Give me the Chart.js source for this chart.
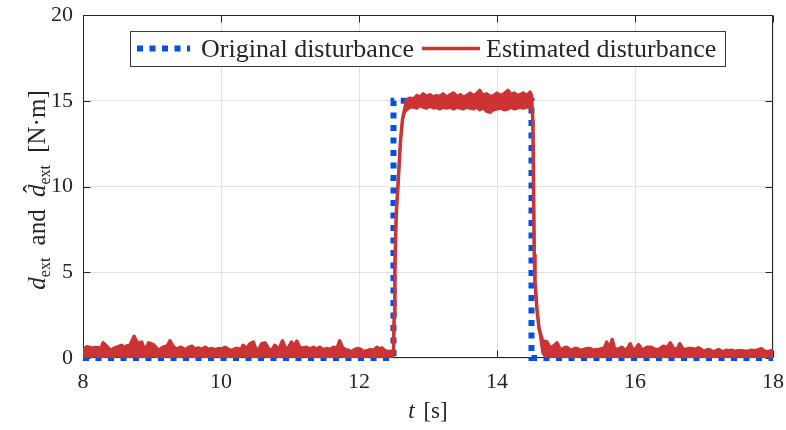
<!DOCTYPE html>
<html lang="en">
<head>
<meta charset="UTF-8">
<title>Disturbance estimation</title>
<script src="https://cdn.jsdelivr.net/npm/chart.js"></script>
<style>
  html, body { margin: 0; padding: 0; background: #fff; }
  #wrap { width: 786px; height: 430px; }
</style>
</head>
<body>
<div id="wrap"><canvas id="chart" width="786" height="430"></canvas></div>
<script>
// original step disturbance
const origTime = [8, 12.5, 12.5, 14.5, 14.5, 18];
const origValue = [0, 0, 15, 15, 0, 0];

// estimated disturbance, read as an upper / lower envelope of the noisy band
// segment A: before the step
const estTimeA = [
  8.00, 8.03, 8.05, 8.10, 8.14, 8.18, 8.22, 8.26, 8.29, 8.34,
  8.40, 8.45, 8.49, 8.56, 8.60, 8.63, 8.68, 8.71, 8.74, 8.78,
  8.82, 8.85, 8.90, 8.95, 9.02, 9.06, 9.09, 9.13, 9.16, 9.22,
  9.26, 9.30, 9.33, 9.37, 9.41, 9.45, 9.48, 9.53, 9.58, 9.62,
  9.67, 9.72, 9.77, 9.82, 9.87, 9.92, 9.96, 10.01, 10.06, 10.11,
  10.16, 10.21, 10.25, 10.29, 10.32, 10.37, 10.42, 10.47, 10.52, 10.56,
  10.59, 10.64, 10.68, 10.71, 10.75, 10.78, 10.83, 10.86, 10.89, 10.95,
  10.99, 11.02, 11.06, 11.10, 11.13, 11.17, 11.20, 11.24, 11.29, 11.34,
  11.38, 11.43, 11.48, 11.53, 11.58, 11.63, 11.68, 11.72, 11.76, 11.80,
  11.85, 11.89, 11.94, 11.99, 12.03, 12.06, 12.11, 12.16, 12.21, 12.26,
  12.30, 12.33, 12.37, 12.41, 12.45, 12.49
];
const estHighA = [
  0.40, 0.55, 0.66, 0.62, 0.56, 0.62, 0.60, 0.55, 0.88, 0.70,
  0.43, 0.58, 0.63, 0.74, 0.60, 0.70, 0.75, 1.00, 1.26, 0.93,
  0.85, 0.93, 0.43, 0.88, 0.78, 0.60, 0.43, 0.55, 0.63, 0.70,
  1.00, 0.72, 0.59, 0.50, 0.63, 0.56, 0.46, 0.62, 0.69, 0.52,
  0.59, 0.50, 0.63, 0.50, 0.55, 0.48, 0.55, 0.52, 0.63, 0.50,
  0.43, 0.55, 0.55, 0.50, 0.74, 0.55, 0.83, 0.93, 0.36, 0.60,
  0.83, 0.88, 0.60, 0.43, 0.55, 0.74, 0.55, 0.70, 1.00, 0.43,
  0.70, 0.93, 0.70, 0.98, 0.70, 0.55, 0.60, 0.63, 0.52, 0.63,
  0.50, 0.63, 0.48, 0.55, 0.50, 0.63, 0.55, 1.00, 0.62, 0.49,
  0.45, 0.36, 0.50, 0.55, 0.50, 0.36, 0.42, 0.49, 0.45, 0.63,
  0.50, 0.59, 0.45, 0.36, 0.39, 0.36
];
const estLowA = [
  0.08, 0.06, 0.10, 0.05, 0.08, 0.12, 0.06, 0.09, 0.05, 0.10,
  0.07, 0.05, 0.11, 0.08, 0.06, 0.10, 0.05, 0.09, 0.12, 0.07,
  0.10, 0.05, 0.08, 0.06, 0.11, 0.07, 0.05, 0.09, 0.06, 0.10,
  0.08, 0.05, 0.12, 0.07, 0.06, 0.10, 0.05, 0.08, 0.09, 0.06,
  0.10, 0.07, 0.05, 0.09, 0.06, 0.11, 0.08, 0.05, 0.10, 0.07,
  0.06, 0.09, 0.05, 0.08, 0.12, 0.06, 0.10, 0.07, 0.05, 0.09,
  0.08, 0.11, 0.06, 0.05, 0.09, 0.07, 0.10, 0.06, 0.12, 0.05,
  0.08, 0.10, 0.06, 0.09, 0.05, 0.07, 0.11, 0.06, 0.08, 0.05,
  0.10, 0.07, 0.06, 0.09, 0.05, 0.08, 0.06, 0.12, 0.07, 0.05,
  0.09, 0.06, 0.10, 0.05, 0.08, 0.06, 0.07, 0.10, 0.05, 0.09,
  0.06, 0.08, 0.05, 0.07, 0.06, 0.08
];

// segment B: rise, plateau, fall
const estTimeB = [
  12.50, 12.51, 12.52, 12.54, 12.57, 12.60, 12.63, 12.66, 12.69, 12.74,
  12.79, 12.84, 12.88, 12.93, 12.98, 13.03, 13.08, 13.12, 13.17, 13.22,
  13.27, 13.32, 13.37, 13.42, 13.47, 13.51, 13.56, 13.61, 13.66, 13.70,
  13.75, 13.80, 13.85, 13.90, 13.95, 14.00, 14.05, 14.10, 14.16, 14.20,
  14.25, 14.29, 14.33, 14.38, 14.43, 14.48, 14.50, 14.52, 14.54, 14.55,
  14.58, 14.61, 14.66, 14.70
];
const estHighB = [
  0.40, 2.50, 5.30, 8.40, 10.40, 12.60, 13.90, 14.50, 15.05, 15.15,
  15.10, 15.30, 15.20, 15.40, 15.25, 15.35, 15.20, 15.30, 15.25, 15.40,
  15.20, 15.35, 15.45, 15.25, 15.35, 15.20, 15.30, 15.45, 15.30, 15.40,
  15.60, 15.30, 15.40, 15.25, 15.30, 15.45, 15.30, 15.40, 15.60, 15.35,
  15.45, 15.30, 15.35, 15.45, 15.30, 15.50, 15.30, 13.80, 6.00, 4.50,
  2.80, 1.70, 1.00, 0.96
];
const estLowB = [
  0.10, 2.50, 5.30, 8.40, 10.40, 12.60, 13.90, 14.30, 14.45, 14.60,
  14.60, 14.55, 14.70, 14.60, 14.55, 14.65, 14.55, 14.60, 14.50, 14.60,
  14.55, 14.60, 14.50, 14.60, 14.55, 14.50, 14.60, 14.55, 14.50, 14.60,
  14.45, 14.55, 14.35, 14.30, 14.45, 14.50, 14.55, 14.45, 14.50, 14.60,
  14.50, 14.55, 14.60, 14.55, 14.60, 14.60, 14.70, 13.80, 6.00, 4.50,
  2.80, 1.70, 0.30, 0.10
];

// segment C: after the step
const estTimeC = [
  14.72, 14.77, 14.82, 14.87, 14.91, 14.94, 14.98, 15.01, 15.05, 15.08,
  15.12, 15.16, 15.20, 15.25, 15.30, 15.35, 15.40, 15.44, 15.48, 15.52,
  15.56, 15.59, 15.62, 15.64, 15.67, 15.70, 15.73, 15.77, 15.81, 15.84,
  15.86, 15.90, 15.93, 15.96, 15.98, 16.02, 16.05, 16.09, 16.12, 16.16,
  16.19, 16.24, 16.29, 16.34, 16.38, 16.41, 16.46, 16.51, 16.55, 16.58,
  16.62, 16.65, 16.69, 16.72, 16.77, 16.82, 16.87, 16.92, 16.96, 16.99,
  17.03, 17.06, 17.10, 17.13, 17.17, 17.21, 17.25, 17.28, 17.32, 17.35,
  17.40, 17.45, 17.50, 17.55, 17.60, 17.64, 17.69, 17.74, 17.79, 17.83,
  17.87, 17.91, 17.95, 17.98, 18.00
];
const estHighC = [
  0.96, 0.60, 0.70, 0.88, 0.55, 0.49, 0.60, 0.63, 0.50, 0.43,
  0.55, 0.55, 0.45, 0.49, 0.55, 0.55, 0.45, 0.49, 0.50, 0.55,
  0.60, 0.93, 0.60, 0.69, 1.08, 0.60, 0.49, 0.55, 0.63, 0.50,
  0.43, 0.60, 0.83, 0.55, 0.43, 0.60, 0.78, 0.55, 0.43, 0.60,
  0.63, 0.63, 0.50, 0.49, 0.60, 0.69, 0.60, 0.88, 0.60, 0.49,
  0.60, 0.83, 0.55, 0.49, 0.55, 0.55, 0.50, 0.59, 0.50, 0.39,
  0.45, 0.49, 0.45, 0.36, 0.42, 0.49, 0.40, 0.36, 0.45, 0.43,
  0.45, 0.39, 0.43, 0.43, 0.40, 0.39, 0.45, 0.43, 0.48, 0.55,
  0.42, 0.36, 0.40, 0.43, 0.42
];
const estLowC = [
  0.12, 0.08, 0.06, 0.10, 0.05, 0.07, 0.09, 0.06, 0.10, 0.05,
  0.08, 0.06, 0.11, 0.05, 0.09, 0.07, 0.06, 0.10, 0.05, 0.08,
  0.06, 0.12, 0.07, 0.05, 0.10, 0.06, 0.08, 0.05, 0.09, 0.07,
  0.05, 0.10, 0.06, 0.08, 0.05, 0.11, 0.07, 0.06, 0.09, 0.05,
  0.08, 0.06, 0.10, 0.05, 0.07, 0.09, 0.06, 0.11, 0.05, 0.08,
  0.06, 0.10, 0.07, 0.05, 0.09, 0.06, 0.08, 0.05, 0.10, 0.07,
  0.06, 0.09, 0.05, 0.08, 0.06, 0.10, 0.07, 0.05, 0.09, 0.06,
  0.08, 0.05, 0.10, 0.06, 0.07, 0.09, 0.05, 0.08, 0.06, 0.10,
  0.07, 0.05, 0.08, 0.06, 0.07
];

const xTicks = [8, 10, 12, 14, 16, 18];
const yTicks = [0, 5, 10, 15, 20];
const seriesNames = ['Original disturbance', 'Estimated disturbance'];

const BLUE = '#0052e6';
const RED = '#cd3333';
const INK = '#262626';
const SERIF = "'Liberation Serif', 'DejaVu Serif', serif";

const estTime = estTimeA.concat(estTimeB, estTimeC);
const estHigh = estHighA.concat(estHighB, estHighC);
const estLow = estLowA.concat(estLowB, estLowC);

const toPoints = (xs, ys) => xs.map((x, i) => ({ x: x, y: ys[i] }));

// box, inward ticks
const framePlugin = {
  id: 'frame',
  beforeDatasetsDraw(chart) {
    const { ctx, chartArea: a, scales: { x, y } } = chart;
    const L = Math.round(a.left) + 0.5, R = Math.round(a.right) - 0.5;
    const T = Math.round(a.top) + 0.5, B = Math.round(a.bottom) - 0.5;
    ctx.save();
    ctx.strokeStyle = INK;
    ctx.lineWidth = 1;
    ctx.beginPath();
    xTicks.forEach(v => {
      const px = Math.round(x.getPixelForValue(v)) + 0.5;
      ctx.moveTo(px, B); ctx.lineTo(px, B - 7);
      ctx.moveTo(px, T); ctx.lineTo(px, T + 7);
    });
    yTicks.forEach(v => {
      const py = Math.round(y.getPixelForValue(v)) + 0.5;
      ctx.moveTo(L, py); ctx.lineTo(L + 7, py);
      ctx.moveTo(R, py); ctx.lineTo(R - 7, py);
    });
    ctx.rect(L, T, R - L, B - T);
    ctx.stroke();
    ctx.restore();
  }
};

// axis titles and boxed legend
const labelPlugin = {
  id: 'labels',
  afterDraw(chart) {
    const { ctx } = chart;
    ctx.save();
    ctx.fillStyle = INK;
    ctx.textBaseline = 'alphabetic';

    // x title: t [s]
    const xm = '23px ' + SERIF, xi = 'italic 23px ' + SERIF;
    ctx.font = xi; const wt = ctx.measureText('t').width;
    ctx.font = xm; const ws = ctx.measureText(' [s]').width;
    const x0 = 428 - (wt + ws + 3) / 2;
    ctx.font = xi; ctx.fillText('t', x0, 418);
    ctx.font = xm; ctx.fillText(' [s]', x0 + wt + 3, 418);

    // y title, rotated
    const main = '25px ' + SERIF, ital = 'italic 25px ' + SERIF, sub = '16px ' + SERIF;
    const parts = [
      { t: 'd', f: ital, dy: 0 },
      { t: 'ext', f: sub, dy: 5 },
      { t: ' and ', f: main, dy: 0, pad: 6 },
      { t: 'd', f: ital, dy: 0, hat: true },
      { t: 'ext', f: sub, dy: 5 },
      { t: ' [N\u00b7m]', f: main, dy: 0, pad: 6 }
    ];
    let total = 0;
    parts.forEach(p => { ctx.font = p.f; p.w = ctx.measureText(p.t).width + (p.pad || 0) * 2; total += p.w; });
    ctx.translate(45, 187);
    ctx.rotate(-Math.PI / 2);
    let cx = -total / 2;
    parts.forEach(p => {
      ctx.font = p.f;
      ctx.fillText(p.t, cx + (p.pad || 0), p.dy);
      if (p.hat) {
        ctx.font = main;
        ctx.fillText('\u02c6', cx + 4, -4);
      }
      cx += p.w;
    });
    ctx.restore();

    // legend
    ctx.save();
    ctx.fillStyle = '#ffffff';
    ctx.fillRect(131, 32, 594, 34);
    ctx.strokeStyle = '#3a3a3a';
    ctx.lineWidth = 1;
    ctx.strokeRect(130.5, 31.5, 595, 35);
    ctx.lineCap = 'butt';
    ctx.strokeStyle = BLUE;
    ctx.lineWidth = 6;
    ctx.setLineDash([6, 6.5]);
    ctx.beginPath(); ctx.moveTo(137, 48.5); ctx.lineTo(190, 48.5); ctx.stroke();
    ctx.setLineDash([]);
    ctx.strokeStyle = RED;
    ctx.lineWidth = 3.5;
    ctx.beginPath(); ctx.moveTo(422, 48.5); ctx.lineTo(480, 48.5); ctx.stroke();
    ctx.fillStyle = INK;
    ctx.font = '26px ' + SERIF;
    ctx.textBaseline = 'alphabetic';
    ctx.fillText(seriesNames[0], 201, 57);
    ctx.fillText(seriesNames[1], 486, 57);
    ctx.restore();
  }
};

new Chart(document.getElementById('chart'), {
  type: 'line',
  data: {
    datasets: [
      {
        label: seriesNames[0],
        data: toPoints(origTime, origValue),
        borderColor: BLUE,
        borderWidth: 6,
        borderDash: [6, 6.5],
        borderCapStyle: 'butt',
        pointRadius: 0,
        fill: false,
        clip: 6,
        order: 3
      },
      {
        label: seriesNames[1],
        data: toPoints(estTime, estHigh),
        borderColor: RED,
        backgroundColor: RED,
        borderWidth: 3.5,
        borderJoinStyle: 'round',
        pointRadius: 0,
        fill: '+1',
        order: 1
      },
      {
        label: seriesNames[1] + ' (lower)',
        data: toPoints(estTime, estLow),
        borderColor: RED,
        borderWidth: 2.5,
        borderJoinStyle: 'round',
        pointRadius: 0,
        fill: false,
        order: 2
      }
    ]
  },
  options: {
    responsive: false,
    animation: false,
    devicePixelRatio: 1,
    layout: { padding: { top: 15, right: 13, left: 0, bottom: 0 } },
    plugins: { legend: { display: false }, tooltip: { enabled: false } },
    elements: { line: { tension: 0 } },
    scales: {
      x: {
        type: 'linear',
        min: 8, max: 18,
        afterBuildTicks: s => { s.ticks = xTicks.map(v => ({ value: v })); },
        afterFit: s => { s.height = 72; s.paddingLeft = 0; s.paddingRight = 0; },
        ticks: { color: INK, font: { family: SERIF, size: 22 }, padding: 11, maxRotation: 0 },
        grid: { color: '#e3e3e3', drawTicks: false },
        border: { display: false }
      },
      y: {
        min: 0, max: 20,
        afterBuildTicks: s => { s.ticks = yTicks.map(v => ({ value: v })); },
        afterFit: s => { s.width = 83; s.paddingTop = 0; s.paddingBottom = 0; },
        ticks: { color: INK, font: { family: SERIF, size: 22 }, padding: 10 },
        grid: { color: '#e3e3e3', drawTicks: false },
        border: { display: false }
      }
    }
  },
  plugins: [framePlugin, labelPlugin]
});
</script>
</body>
</html>
